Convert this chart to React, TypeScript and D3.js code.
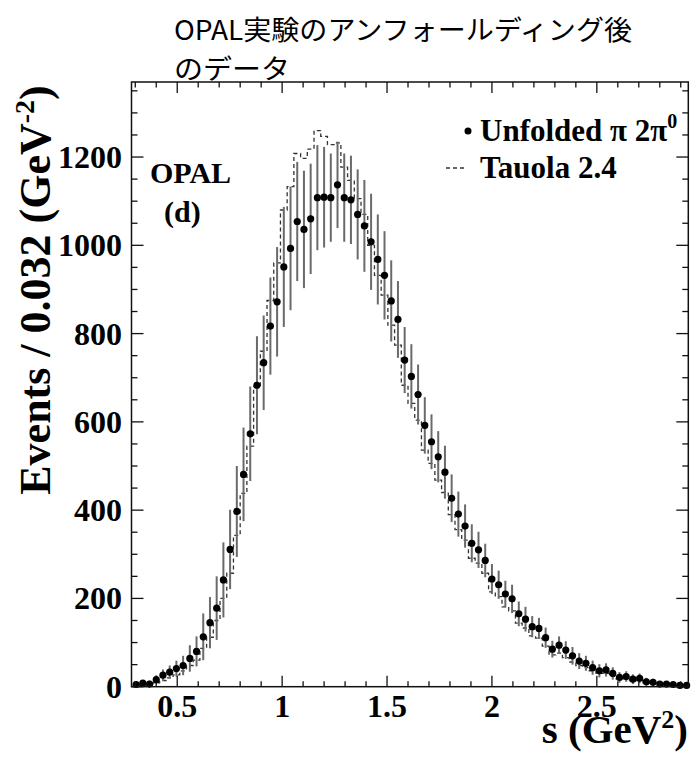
import React from "react";
import * as d3 from "d3";

// Bin structure (GeV^2): first bin centre and width
const firstBinCentre = 0.304;
const binWidth = 0.032;

// Unfolded pi 2pi0 data (events per bin)
const unfolded = [
  5, 8, 6, 16, 26, 33, 41, 48, 64, 80,
  113, 145, 178, 242, 311, 397, 481, 573, 683, 734,
  817, 872, 951, 993, 1054, 1036, 1060, 1108, 1109, 1108,
  1137, 1108, 1103, 1070, 1044, 1008, 968, 932, 874, 832,
  740, 703, 662, 592, 555, 521, 486, 427, 391, 364,
  325, 310, 286, 244, 231, 210, 199, 165, 153, 136,
  132, 111, 85, 94, 83, 70, 58, 53, 43, 36,
  38, 30, 21, 23, 17, 19, 11, 10, 6, 6,
  5, 3, 3,
];

// Symmetric error bars
const errors = [
  6, 7, 8, 10, 13, 15, 18, 22, 30, 34,
  53, 58, 72, 85, 90, 103, 106, 107, 111, 107,
  110, 124, 136, 140, 135, 133, 125, 119, 114, 100,
  98, 100, 100, 102, 104, 109, 102, 100, 92, 87,
  75, 73, 68, 64, 62, 58, 60, 54, 51, 49,
  43, 41, 38, 34, 32, 30, 32, 28, 28, 24,
  24, 23, 19, 20, 20, 20, 18, 17, 16, 15,
  15, 14, 12, 12, 11, 11, 9, 8, 7, 6,
  6, 5, 5,
];

// Tauola 2.4 prediction (dashed histogram)
const tauola = [
  2, 4, 6, 9, 14, 20, 27, 36, 48, 60,
  87, 112, 150, 200, 257, 343, 438, 545, 680, 760,
  875, 960, 1080, 1133, 1208, 1197, 1218, 1260, 1247, 1228,
  1232, 1177, 1147, 1106, 1070, 1000, 932, 887, 819, 774,
  683, 642, 604, 536, 506, 468, 440, 390, 356, 332,
  291, 280, 257, 215, 204, 181, 172, 144, 133, 115,
  110, 92, 72, 76, 66, 56, 48, 43, 36, 30,
  30, 24, 18, 18, 14, 14, 9, 8, 5, 5,
  4, 3, 2,
];

const xMajorTicks = [0.5, 1, 1.5, 2, 2.5];
const xTickLabels = ["0.5", "1", "1.5", "2", "2.5"];
const yMajorTicks = [0, 200, 400, 600, 800, 1000, 1200];
const yTickLabels = ["0", "200", "400", "600", "800", "1000", "1200"];

const titleLine1 = "OPAL実験のアンフォールディング後";
const titleLine2 = "のデータ";

export default function App() {
  const W = 691;
  const H = 760;
  const left = 131.5, right = 688.3, top = 82, bottom = 686.7;

  const x = d3.scaleLinear().domain([0.282, 2.936]).range([left, right]);
  const y = d3.scaleLinear().domain([0, 1370]).range([bottom, top]);

  const centres = unfolded.map((_, i) => firstBinCentre + i * binWidth);

  const stepPts: [number, number][] = tauola.map((v, i) => [centres[i] - binWidth / 2, v]);
  stepPts.push([centres[centres.length - 1] + binWidth / 2, tauola[tauola.length - 1]]);
  const stepLine = d3
    .line<[number, number]>()
    .x((d) => x(d[0]))
    .y((d) => y(d[1]))
    .curve(d3.curveStepAfter);

  const xMinor = d3.range(3, 30).map((v) => v / 10).filter((v) => Math.abs(v * 2 - Math.round(v * 2)) > 1e-6);
  const yMinor = d3.range(50, 1370, 50).filter((v) => v % 200 !== 0);

  const serif = "'Liberation Serif', 'Times New Roman', serif";
  const cjk = "'Noto Sans CJK JP', 'Noto Sans', sans-serif";
  const axisColor = "#111";

  return (
    <div style={{ position: "absolute", left: 0, top: 0 }}>
      <svg width={W} height={H} style={{ display: "block", background: "#fff" }}>
        <rect x={0} y={0} width={W} height={H} fill="#fff" />
        {/* Title */}
        <g fontFamily={cjk} fontSize={27} fill="#000">
          <text x={174} y={40} textLength={458} lengthAdjust="spacingAndGlyphs">
            {titleLine1}
          </text>
          <text x={174} y={79} textLength={116} lengthAdjust="spacingAndGlyphs">
            {titleLine2}
          </text>
        </g>

        {/* Tauola dashed histogram */}
        <path
          d={stepLine(stepPts) || ""}
          fill="none"
          stroke="#333"
          strokeWidth={1.3}
          strokeDasharray="4,3"
        />

        {/* Error bars */}
        <g stroke="#6a6a6a" strokeWidth={2}>
          {unfolded.map((v, i) => (
            <line
              key={"e" + i}
              x1={x(centres[i])}
              x2={x(centres[i])}
              y1={y(Math.max(0, v - errors[i]))}
              y2={y(v + errors[i])}
            />
          ))}
        </g>

        {/* Data points */}
        <g fill="#000">
          {unfolded.map((v, i) => (
            <circle key={"p" + i} cx={x(centres[i])} cy={y(v)} r={3.6} />
          ))}
        </g>

        {/* Frame */}
        <rect
          x={left}
          y={top}
          width={right - left}
          height={bottom - top}
          fill="none"
          stroke={axisColor}
          strokeWidth={1.5}
        />

        {/* Ticks on all four sides */}
        <g stroke={axisColor} strokeWidth={1.3}>
          {xMajorTicks.map((t) => (
            <g key={"xm" + t}>
              <line x1={x(t)} x2={x(t)} y1={bottom} y2={bottom - 11} />
              <line x1={x(t)} x2={x(t)} y1={top} y2={top + 11} />
            </g>
          ))}
          {xMinor.map((t) => (
            <g key={"xn" + t}>
              <line x1={x(t)} x2={x(t)} y1={bottom} y2={bottom - 5.5} />
              <line x1={x(t)} x2={x(t)} y1={top} y2={top + 5.5} />
            </g>
          ))}
          {yMajorTicks.map((t) => (
            <g key={"ym" + t}>
              <line x1={left} x2={left + 12} y1={y(t)} y2={y(t)} />
              <line x1={right} x2={right - 12} y1={y(t)} y2={y(t)} />
            </g>
          ))}
          {yMinor.map((t) => (
            <g key={"yn" + t}>
              <line x1={left} x2={left + 6} y1={y(t)} y2={y(t)} />
              <line x1={right} x2={right - 6} y1={y(t)} y2={y(t)} />
            </g>
          ))}
        </g>

        {/* Tick labels */}
        <g fontFamily={serif} fontWeight="bold" fontSize={32} fill="#000">
          {xMajorTicks.map((t, i) => (
            <text key={"xl" + t} x={x(t)} y={717} textAnchor="middle">
              {xTickLabels[i]}
            </text>
          ))}
          {yMajorTicks.map((t, i) => (
            <text key={"yl" + t} x={122} y={y(t) + 11} textAnchor="end">
              {yTickLabels[i]}
            </text>
          ))}
        </g>

        {/* Axis titles */}
        <text
          fontFamily={serif}
          fontWeight="bold"
          fontSize={41}
          fill="#000"
          x={688}
          y={743}
          textAnchor="end"
        >
          s (GeV<tspan dy={-15} fontSize={26}>2</tspan>
          <tspan dy={15}>)</tspan>
        </text>
        <text
          fontFamily={serif}
          fontWeight="bold"
          fontSize={44}
          fill="#000"
          transform="translate(50,290) rotate(-90)"
          textAnchor="middle"
        >
          Events / 0.032 (GeV<tspan dy={-16} fontSize={28}>-2</tspan>
          <tspan dy={16}>)</tspan>
        </text>

        {/* In-plot labels */}
        <g fontFamily={serif} fontWeight="bold" fontSize={30} fill="#000">
          <text x={150} y={183}>OPAL</text>
          <text x={164} y={222}>(d)</text>
        </g>

        {/* Legend */}
        <circle cx={468} cy={131} r={3.5} fill="#000" />
        <text fontFamily={serif} fontWeight="bold" fontSize={31} fill="#000" x={480} y={141}>
          Unfolded π 2π<tspan dy={-13} fontSize={20}>0</tspan>
        </text>
        <line x1={446} x2={467} y1={168} y2={168} stroke="#333" strokeWidth={1.3} strokeDasharray="4,3" />
        <text fontFamily={serif} fontWeight="bold" fontSize={31} fill="#000" x={480} y={178}>
          Tauola 2.4
        </text>
      </svg>
    </div>
  );
}
